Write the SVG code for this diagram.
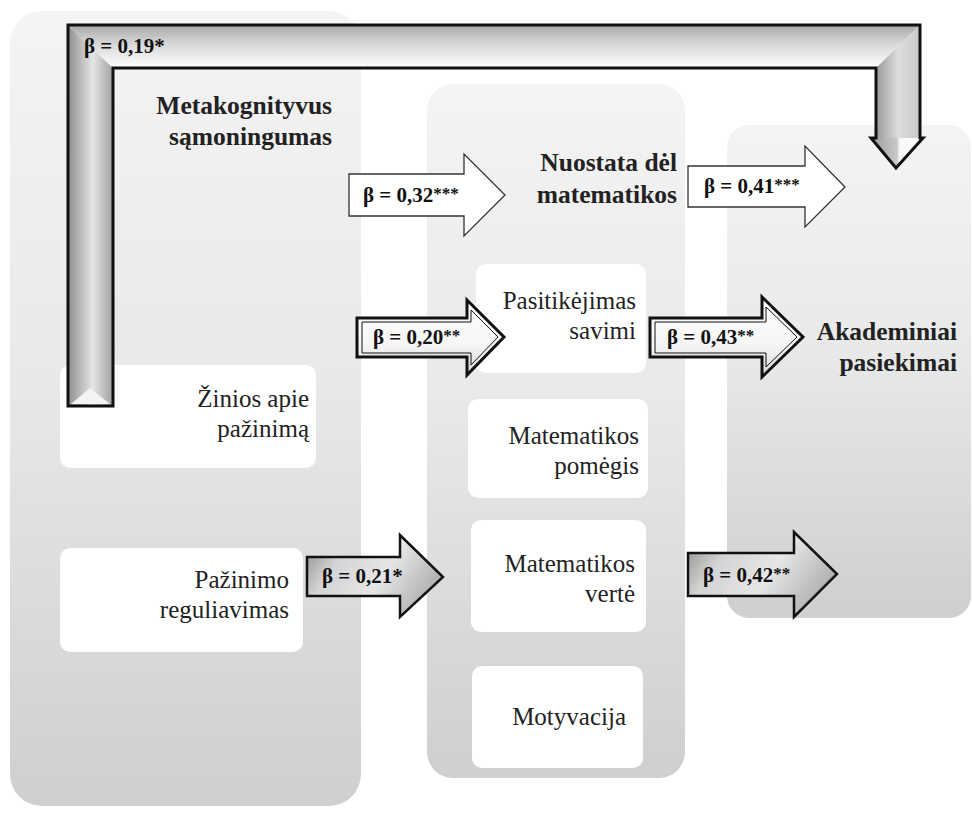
<svg xmlns="http://www.w3.org/2000/svg" width="972" height="814" viewBox="0 0 972 814">
<defs>
<linearGradient id="col" x1="0" y1="0" x2="0" y2="1">
<stop offset="0" stop-color="#f4f4f4"/><stop offset="0.45" stop-color="#e9e9e9"/><stop offset="1" stop-color="#cfcfcf"/>
</linearGradient>
<linearGradient id="barH" x1="0" y1="0" x2="0" y2="1">
<stop offset="0" stop-color="#a8a8a8"/><stop offset="0.45" stop-color="#d8d8d8"/><stop offset="1" stop-color="#ffffff"/>
</linearGradient>
<linearGradient id="barV" x1="0" y1="0" x2="1" y2="0">
<stop offset="0" stop-color="#8e8e8e"/><stop offset="0.55" stop-color="#e6e6e6"/><stop offset="1" stop-color="#a0a0a0"/>
</linearGradient>
<linearGradient id="barR" x1="0" y1="0" x2="1" y2="0">
<stop offset="0" stop-color="#999999"/><stop offset="0.5" stop-color="#dddddd"/><stop offset="1" stop-color="#c8c8c8"/>
</linearGradient>
<linearGradient id="head" x1="0" y1="0" x2="1" y2="0">
<stop offset="0" stop-color="#9a9a9a"/><stop offset="0.5" stop-color="#c8c8c8"/><stop offset="0.55" stop-color="#f8f8f8"/><stop offset="1" stop-color="#ffffff"/>
</linearGradient>
<linearGradient id="metal" x1="0" y1="0" x2="1" y2="0.4">
<stop offset="0" stop-color="#868686"/><stop offset="0.3" stop-color="#d4d4d4"/><stop offset="0.65" stop-color="#e6e6e6"/><stop offset="1" stop-color="#b4b4b4"/>
</linearGradient>
<linearGradient id="soft" x1="0" y1="0" x2="0" y2="1">
<stop offset="0" stop-color="#ffffff"/><stop offset="0.6" stop-color="#f6f6f6"/><stop offset="1" stop-color="#d6d6d6"/>
</linearGradient>
</defs>
<style>
.col{fill:url(#col)}
.box{fill:#ffffff}
.title{font-weight:bold;font-size:25.5px;fill:#222;text-anchor:end}
.item{font-size:25px;fill:#222;text-anchor:end}
.lbl{font-weight:bold;font-size:21px;fill:#111}
.st{font-size:17px}
.a1{fill:#ffffff;stroke:#333;stroke-width:1.3}
.a2{fill:url(#soft);stroke:#111;stroke-width:3}
.a2i{fill:none;stroke:#111;stroke-width:1}
.a3{fill:url(#metal);stroke:#111;stroke-width:2.5}
.bigo{fill:none;stroke:#111;stroke-width:3;stroke-linejoin:miter}
</style>
<g font-family="Liberation Serif, DejaVu Serif, serif">
<g id="col-left">
<rect class="col" x="10" y="11" width="351" height="795" rx="32"/>
<text class="title" x="332" y="114">Metakognityvus</text>
<text class="title" x="332" y="145">sąmoningumas</text>
</g>
<g id="col-mid">
<rect class="col" x="427" y="84" width="258" height="694" rx="26"/>
<text class="title" x="677" y="171">Nuostata dėl</text>
<text class="title" x="677" y="203">matematikos</text>
</g>
<g id="col-right">
<rect class="col" x="727" y="125" width="244" height="493" rx="22"/>
<text class="title" x="957" y="340">Akademiniai</text>
<text class="title" x="957" y="371">pasiekimai</text>
</g>

<g id="n-zinios"><rect class="box" x="60" y="365" width="256" height="103" rx="10"/>
<text class="item" x="309" y="407">Žinios apie</text><text class="item" x="309" y="437">pažinimą</text></g>
<g id="n-reguliavimas"><rect class="box" x="60" y="548" width="243" height="104" rx="10"/>
<text class="item" x="289" y="588">Pažinimo</text><text class="item" x="289" y="618">reguliavimas</text></g>
<g id="n-pasitikejimas"><rect class="box" x="476" y="264" width="170" height="109" rx="10"/>
<text class="item" x="636" y="309">Pasitikėjimas</text><text class="item" x="636" y="339">savimi</text></g>
<g id="n-pomegis"><rect class="box" x="468" y="399" width="180" height="99" rx="10"/>
<text class="item" x="639" y="444">Matematikos</text><text class="item" x="639" y="474">pomėgis</text></g>
<g id="n-verte"><rect class="box" x="471" y="520" width="175" height="112" rx="10"/>
<text class="item" x="635" y="572">Matematikos</text><text class="item" x="635" y="602">vertė</text></g>
<g id="n-motyvacija"><rect class="box" x="472" y="666" width="171" height="102" rx="10"/>
<text class="item" x="626" y="725">Motyvacija</text></g>

<g id="connectors">
<g id="e-019">
<polygon points="68,25 113,68 113,406 68,406" fill="url(#barV)"/>
<polygon points="68,25 920,25 876,68 113,68" fill="url(#barH)"/>
<polygon points="876,68 920,25 920,138 876,138" fill="url(#barR)"/>
<polygon points="871,138 923,138 896,168" fill="url(#head)"/>
<polygon points="71,404 90,388 110,404" fill="#f4f4f4"/>
<path class="bigo" d="M68,406 V25 H920 V138 H923 L896,168 L871,138 H876 V68 H113 V406 Z"/>
<text class="lbl" x="84" y="53">β = 0,19*</text>
</g>
<g id="e-032">
<path class="a1" d="M349,174 H464 V154 L505,195 L464,236 V216 H349 Z"/>
<text class="lbl" x="363" y="202">β = 0,32<tspan class="st" dy="-3">***</tspan></text>
</g>
<g id="e-041">
<path class="a1" d="M688,166 H805 V146 L845,187 L805,227 V207 H688 Z"/>
<text class="lbl" x="704" y="193">β = 0,41<tspan class="st" dy="-3">***</tspan></text>
</g>
<g id="e-020">
<path class="a2" d="M357,318 H467 V300 L504,337 L467,375 V357 H357 Z"/>
<path class="a2i" d="M362,322 H471 V310 L498,337 L471,365 V353 H362 Z"/>
<text class="lbl" x="373" y="344">β = 0,20<tspan class="st" dy="-3">**</tspan></text>
</g>
<g id="e-043">
<path class="a2" d="M650,318 H762 V297 L803,337 L762,377 V357 H650 Z"/>
<path class="a2i" d="M655,322 H766 V307 L797,337 L766,367 V353 H655 Z"/>
<text class="lbl" x="667" y="344">β = 0,43<tspan class="st" dy="-3">**</tspan></text>
</g>
<g id="e-021">
<path class="a3" d="M307,557 H400 V535 L443,577 L400,617 V596 H307 Z"/>
<text class="lbl" x="322" y="583">β = 0,21*</text>
</g>
<g id="e-042">
<path class="a3" d="M688,553 H794 V532 L837,574 L794,617 V596 H688 Z"/>
<text class="lbl" x="703" y="582">β = 0,42<tspan class="st" dy="-3">**</tspan></text>
</g>
</g>
</g>
</svg>
